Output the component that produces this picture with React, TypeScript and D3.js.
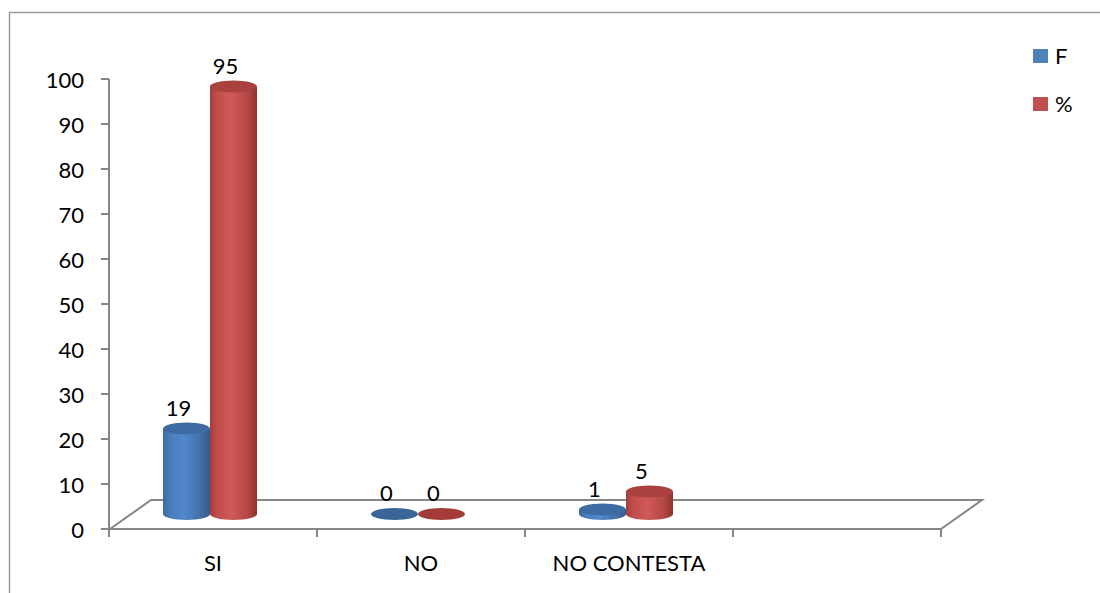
import React from "react";
import * as d3 from "d3";

const categories = ["SI", "NO", "NO CONTESTA", ""];
const seriesNames = ["F", "%"];
const valuesF = [19, 0, 1];
const valuesPct = [95, 0, 5];
const yTicks = [0, 10, 20, 30, 40, 50, 60, 70, 80, 90, 100];

const W = 1100;
const H = 593;
const FONT = "Lato, 'Open Sans', sans-serif";
const AXIS = "#868686";

const x = d3.scaleBand<string>().domain(categories).range([109, 941]).paddingInner(0).paddingOuter(0);
const y = d3.scaleLinear().domain([0, 100]).range([529, 79]);
const DEPTH_DX = 41;
const DEPTH_DY = -29;
const BASE_Y = 514;
const GROUP_SHIFT = -3;
const BAR_W = 47;
const inner = d3.scaleBand<string>().domain(seriesNames).range([-BAR_W, BAR_W]).padding(0);
const RX = BAR_W / 2;
const RY = 6;

const colors = {
  F: { grad: "gradF", top: "#3E6CA2", flat: "#3A6598" },
  "%": { grad: "gradP", top: "#A9423F", flat: "#A33C39" },
};

export default function App() {
  const seriesData: [string, number[]][] = [
    ["F", valuesF],
    ["%", valuesPct],
  ];
  const floorPath = [
    [110, 529],
    [941, 529],
    [941 + DEPTH_DX, 529 + DEPTH_DY],
    [110 + DEPTH_DX, 529 + DEPTH_DY],
  ];
  const ticksX = [...categories.map((c) => x(c)!), 941];

  return (
    <svg
      width={W}
      height={H}
      style={{ position: "absolute", left: 0, top: 0, display: "block", background: "#fff" }}
      fontFamily={FONT}
    >
      <defs>
        <linearGradient id="gradF" x1="0" x2="1" y1="0" y2="0">
          <stop offset="0" stopColor="#3F6AA0" />
          <stop offset="0.15" stopColor="#4A7CBB" />
          <stop offset="0.45" stopColor="#5089CC" />
          <stop offset="0.8" stopColor="#426FA8" />
          <stop offset="1" stopColor="#36598A" />
        </linearGradient>
        <linearGradient id="gradP" x1="0" x2="1" y1="0" y2="0">
          <stop offset="0" stopColor="#A23E3B" />
          <stop offset="0.15" stopColor="#C04E4B" />
          <stop offset="0.45" stopColor="#D05957" />
          <stop offset="0.8" stopColor="#B44744" />
          <stop offset="1" stopColor="#8C3330" />
        </linearGradient>
      </defs>
      <rect x={9.5} y={12.5} width={1200} height={700} fill="#fff" stroke="#9c9c9c" strokeWidth={1.5} />

      {/* floor */}
      <path
        d={"M" + floorPath.map((p) => p.join(",")).join("L") + "Z"}
        fill="#fff"
        stroke={AXIS}
        strokeWidth={2}
      />

      {/* y axis */}
      <line x1={109} x2={109} y1={y(100)} y2={y(0)} stroke={AXIS} strokeWidth={2} />
      {yTicks.map((t) => (
        <g key={t}>
          <line x1={101} x2={109} y1={y(t)} y2={y(t)} stroke={AXIS} strokeWidth={2} />
          <text x={84} y={y(t) + 8.5} textAnchor="end" fontSize={22} fill="#000">
            {t}
          </text>
        </g>
      ))}

      {/* category ticks */}
      {ticksX.map((tx, i) => (
        <line key={i} x1={tx} x2={tx} y1={529} y2={537} stroke={AXIS} strokeWidth={2} />
      ))}
      {categories.map((c) => (
        <text key={c} x={x(c)! + x.bandwidth() / 2} y={571} textAnchor="middle" fontSize={22} fill="#000">
          {c}
        </text>
      ))}

      {/* bars */}
      {categories.slice(0, 3).map((c, ci) =>
        seriesData.map(([name, vals]) => {
          const v = vals[ci];
          const cx0 = x(c)! + x.bandwidth() / 2 + GROUP_SHIFT + inner(name)!;
          const cx1 = cx0 + BAR_W;
          const cc = (cx0 + cx1) / 2;
          const h = y(0) - y(v);
          const topY = BASE_Y - h;
          const col = (colors as any)[name];
          return (
            <g key={c + name}>
              {v > 0 ? (
                <>
                  <path
                    d={`M${cx0},${topY}L${cx0},${BASE_Y}A${RX},${RY} 0 0 0 ${cx1},${BASE_Y}L${cx1},${topY}Z`}
                    fill={`url(#${col.grad})`}
                  />
                  <ellipse cx={cc} cy={topY} rx={RX} ry={RY} fill={col.top} />
                </>
              ) : (
                <ellipse cx={cc} cy={BASE_Y} rx={RX} ry={RY} fill={col.flat} />
              )}
              <text x={cc - 8} y={topY - 21 + 8} textAnchor="middle" fontSize={22} fill="#000">
                {v}
              </text>
            </g>
          );
        })
      )}

      {/* legend */}
      {seriesNames.map((s, i) => (
        <g key={s}>
          <rect x={1033} y={49 + i * 48} width={15} height={14} fill={(colors as any)[s].flat === "#3A6598" ? "#4F81BD" : "#C0504D"} />
          <text x={1055} y={56 + i * 48 + 8} fontSize={22} fill="#000">
            {s}
          </text>
        </g>
      ))}
    </svg>
  );
}
